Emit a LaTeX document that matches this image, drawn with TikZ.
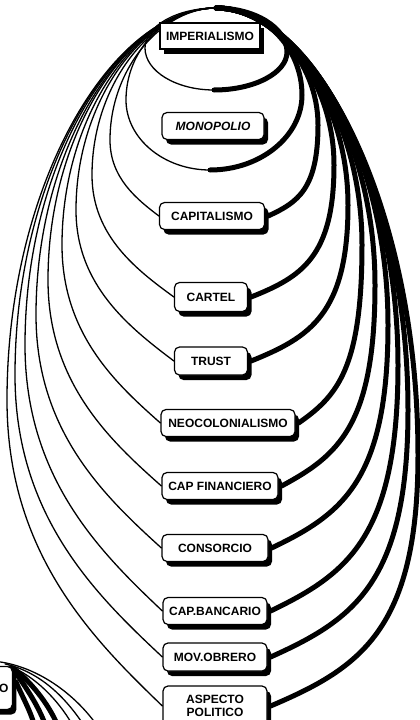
\documentclass[tikz,border=0pt]{standalone}
\usepackage{fontspec}
\setmainfont{Liberation Sans}
\usetikzlibrary{calc,shadows}
\pgfdeclarelayer{loops}
\pgfsetlayers{loops,main}

% Egg-shaped loop: thin on the left from the box up to the apex,
% thick on the right from the apex down to the box.
% #1 box, (#2,#3) widest point on the left, (#4,#5) widest point on the right
\newcommand\eggloop[5]{%
  \draw[thinarc] let \p1=(#1.west), \p2=(#2,#3), \p3=(apex) in
    (\p1) .. controls ({\x1-0.45*(\x1-\x2)},{\y1+0.22*(\y2-\y1)}) and ({\x2},{\y2-0.5*(\y2-\y1)}) .. (\p2)
          .. controls ({\x2},{\y2+0.55*(\y3-\y2)}) and ({\x3-0.5*(\x3-\x2)},{\y3}) .. (\p3);
  \draw[thickarc] let \p1=($(#1.east)+(3,0)$), \p2=(#4,#5), \p3=(apex) in
    (\p3) .. controls ({\x3+0.5*(\x2-\x3)},{\y3}) and ({\x2},{\y2+0.55*(\y3-\y2)}) .. (\p2)
          .. controls ({\x2},{\y2-0.7*(\y2-\y1)}) and ({\x1+0.6*(\x2-\x1)},{\y1+0.15*(\y2-\y1)}) .. (\p1);
}

% Closed ring round a box: thin from the apex down the left to the bottom,
% thick from the bottom up the right back to the apex.
% (#1,#2) left, (#3,#4) bottom, (#5,#6) right
\newcommand\ringloop[6]{%
  \draw[thinarc] let \p1=(apex), \p2=(#1,#2), \p3=(#3,#4) in
    (\p1) .. controls ({\x1-0.55*(\x1-\x2)},{\y1}) and ({\x2},{\y2+0.55*(\y1-\y2)}) .. (\p2)
          .. controls ({\x2},{\y2-0.55*(\y2-\y3)}) and ({\x3-0.55*(\x3-\x2)},{\y3}) .. (\p3);
  \draw[thickarc] let \p1=(apex), \p2=(#5,#6), \p3=(#3,#4) in
    (\p3) .. controls ({\x3+0.55*(\x2-\x3)},{\y3}) and ({\x2},{\y2-0.55*(\y2-\y3)}) .. (\p2)
          .. controls ({\x2},{\y2+0.55*(\y1-\y2)}) and ({\x1+0.55*(\x2-\x1)},{\y1}) .. (\p1);
}

\begin{document}
\begin{tikzpicture}[x=1pt,y=-1pt,
  thinarc/.style={line width=1.3pt, line cap=round},
  thickarc/.style={line width=5pt, line cap=round},
  boxtext/.style={draw, line width=1.2pt, fill=white, rounded corners=5pt,
    font=\bfseries\fontsize{12}{13.5}\selectfont, minimum height=27pt,
    inner sep=2pt, align=center,
    drop shadow={shadow xshift=4pt, shadow yshift=-5pt, opacity=1, fill=black}},
]
\useasboundingbox (0,0) rectangle (420,720);
\clip (0,0) rectangle (420,720);

\coordinate (apex) at (216,8);

% boxes
\node[boxtext, sharp corners, minimum width=100pt, minimum height=26pt] (imp) at (210,36) {IMPERIALISMO};
\node[boxtext, minimum width=102pt, font=\bfseries\itshape\fontsize{12}{13.5}\selectfont] (mono) at (213,126) {MONOPOLIO};
\node[boxtext, minimum width=105pt] (capi) at (212,216) {CAPITALISMO};
\node[boxtext, minimum width=73pt, minimum height=29pt] (cart) at (211,297) {CARTEL};
\node[boxtext, minimum width=73pt, minimum height=28pt] (trust) at (211,361) {TRUST};
\node[boxtext, minimum width=134pt] (neo) at (228,423) {NEOCOLONIALISMO};
\node[boxtext, minimum width=116pt] (fin) at (220,486) {CAP FINANCIERO};
\node[boxtext, minimum width=106pt] (cons) at (215,548) {CONSORCIO};
\node[boxtext, minimum width=104pt] (banc) at (215,611) {CAP.BANCARIO};
\node[boxtext, minimum width=104pt, minimum height=28pt] (mov) at (215,657) {MOV.OBRERO};
\node[boxtext, minimum width=104pt, minimum height=40pt] (asp) at (215,706) {ASPECTO\\POLITICO};

% neighbouring diagram, mostly off the sheet
\node[boxtext, minimum height=43pt, text width=60pt, align=right, inner xsep=4pt, anchor=east] (part) at (13,688) {O};

\begin{pgfonlayer}{loops}
  \ringloop{145}{48}{214}{90}{287}{52}
  \ringloop{126}{100}{210}{170}{302}{95}
  \eggloop{capi}{110}{140}{318}{125}
  \eggloop{cart}{92}{175}{334}{165}
  \eggloop{trust}{76}{210}{348}{205}
  \eggloop{neo}{62}{245}{362}{245}
  \eggloop{fin}{48}{280}{375}{285}
  \eggloop{cons}{36}{315}{388}{325}
  \eggloop{banc}{25}{345}{398}{365}
  \eggloop{mov}{15}{375}{408}{410}
  \eggloop{asp}{7}{400}{418}{455}

  % loops of the neighbouring diagram
  \draw[thinarc] ($(part.north east)+(-13,-4)$) .. controls (40,668) and (75,695) .. (96,724);
  \draw[thinarc] ($(part.north east)+(-8,-2)$) .. controls (40,672) and (65,697) .. (83,724);
  \draw[thinarc] ($(part.north east)+(-4,0)$) .. controls (35,676) and (58,700) .. (72,724);
  \draw[thickarc] ($(part.north east)+(0,2)$) .. controls (30,681) and (48,703) .. (57,724);
  \draw[thickarc] ($(part.north east)+(2,6)$) .. controls (25,686) and (38,705) .. (45,724);
  \draw[thickarc] ($(part.east)+(3,-6)$) .. controls (22,696) and (30,710) .. (34,724);
\end{pgfonlayer}
\end{tikzpicture}
\end{document}
